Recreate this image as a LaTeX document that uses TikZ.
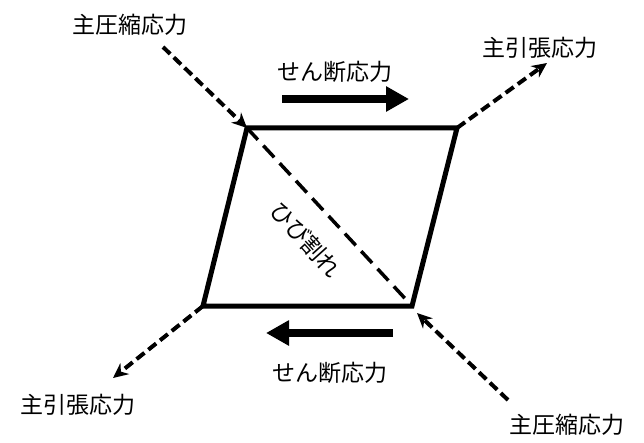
\documentclass[tikz,border=0pt]{standalone}
\usepackage{fontspec}
\newfontfamily\jp{Noto Sans CJK JP}
\usetikzlibrary{arrows.meta}
\begin{document}
\begin{tikzpicture}[x=1pt,y=-1pt,
  lbl/.style={font=\jp\fontsize{23}{23}\selectfont, inner sep=0pt},
  frame/.style={line width=5pt, line join=miter},
  stressline/.style={line width=4pt, dash pattern=on 10pt off 5pt, -{Stealth[length=15pt,width=14pt]}},
  crackline/.style={line width=3.5pt, dash pattern=on 16pt off 8pt},
  shear/.style={line width=8pt, -{Triangle[length=23pt,width=24pt]}}]
\useasboundingbox (0,0) rectangle (644,443);
% parallelogram corners
\coordinate (TL) at (247,128);
\coordinate (TR) at (457,128);
\coordinate (BR) at (412,306);
\coordinate (BL) at (203,306);
\draw[frame] (TL) -- (TR) -- (BR) -- (BL) -- cycle;
% crack
\draw[crackline] (TL) -- (BR);
% stress lines
\coordinate (cs1) at (163,47);
\coordinate (ts1) at (547,63);
\coordinate (ts2) at (113,378);
\coordinate (cs2) at (508,400);
\coordinate (cs2t) at (417,313);
\draw[stressline] (cs1) -- (TL);
\draw[stressline] (TR) -- (ts1);
\draw[stressline] (BL) -- (ts2);
\draw[stressline] (cs2) -- (cs2t);
% shear arrows
\coordinate (sh1a) at (282,99);
\coordinate (sh1b) at (409,99);
\coordinate (sh2a) at (393,333);
\coordinate (sh2b) at (266,333);
\draw[shear] (sh1a) -- (sh1b);
\draw[shear] (sh2a) -- (sh2b);
% labels
\node[lbl] (l1) at (130,25) {主圧縮応力};
\node[lbl] (l2) at (540,48) {主引張応力};
\node[lbl] (l3) at (78,405) {主引張応力};
\node[lbl] (l4) at (567,425) {主圧縮応力};
\node[lbl] (l5) at (335,72) {せん断応力};
\node[lbl] (l6) at (330,373) {せん断応力};
\node[lbl, rotate=-48] (l7) at (306,240) {ひび割れ};
\end{tikzpicture}
\end{document}
